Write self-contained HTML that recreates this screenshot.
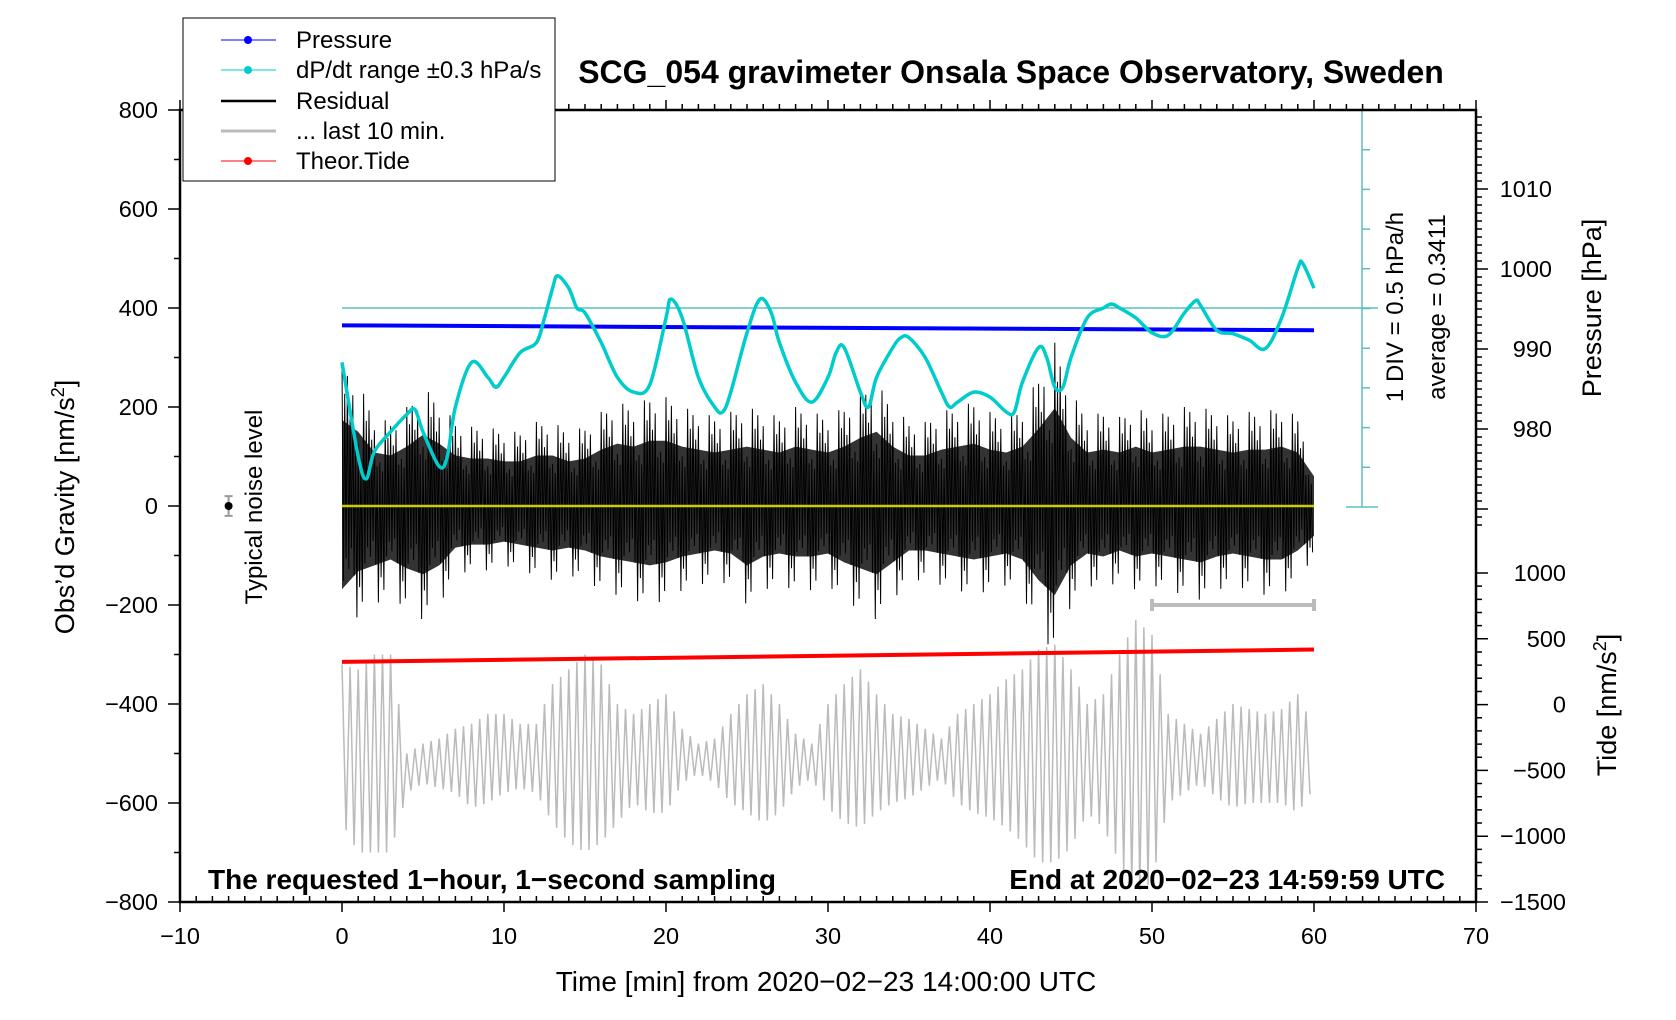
<!DOCTYPE html>
<html><head><meta charset="utf-8"><style>
body{margin:0;background:#fff;}
svg{display:block;font-family:"Liberation Sans",sans-serif;}
</style></head><body>
<svg id="chart" width="1676" height="1020" viewBox="0 0 1676 1020">
<g id="gGray"></g>
<g id="gRes"></g>
<g id="gLines"></g>
<g id="gAxes"></g>
<text x="1011" y="83" text-anchor="middle" font-size="32" font-weight="bold">SCG_054 gravimeter Onsala Space Observatory, Sweden</text>
<text x="208" y="889" font-size="28" font-weight="bold">The requested 1−hour, 1−second sampling</text>
<text x="1445" y="889" text-anchor="end" font-size="28" font-weight="bold">End at 2020−02−23 14:59:59 UTC</text>
<text transform="translate(74,507) rotate(-90)" text-anchor="middle" font-size="27">Obs’d Gravity [nm/s<tspan dy="-10" font-size="18">2</tspan><tspan dy="10">]</tspan></text>
<text transform="translate(1601,308) rotate(-90)" text-anchor="middle" font-size="27">Pressure [hPa]</text>
<text transform="translate(1616,705) rotate(-90)" text-anchor="middle" font-size="27">Tide [nm/s<tspan dy="-10" font-size="18">2</tspan><tspan dy="10">]</tspan></text>
<text x="826" y="991" text-anchor="middle" font-size="28">Time [min] from 2020−02−23 14:00:00 UTC</text>
<text transform="translate(1403,307) rotate(-90)" text-anchor="middle" font-size="24">1 DIV = 0.5 hPa/h</text>
<text transform="translate(1445,307) rotate(-90)" text-anchor="middle" font-size="24">average = 0.3411</text>
<text transform="translate(262,507) rotate(-90)" text-anchor="middle" font-size="24">Typical noise level</text>
<g>
<rect x="183" y="18" width="372" height="163" fill="#fff" stroke="#000" stroke-width="1"/>
<g><line x1="221" y1="40" x2="276" y2="40" stroke="#00f" stroke-width="1"/><circle cx="248" cy="40" r="4" fill="#00f"/><text x="296" y="48" font-size="24">Pressure</text></g>
<g><line x1="221" y1="70" x2="276" y2="70" stroke="#0cc" stroke-width="1"/><circle cx="248" cy="70" r="4" fill="#0cc"/><text x="296" y="78" font-size="24">dP/dt range ±0.3 hPa/s</text></g>
<g><line x1="221" y1="101" x2="276" y2="101" stroke="#000" stroke-width="2.5"/><text x="296" y="109" font-size="24">Residual</text></g>
<g><line x1="221" y1="131" x2="276" y2="131" stroke="#bbb" stroke-width="3"/><text x="296" y="139" font-size="24">... last 10 min.</text></g>
<g><line x1="221" y1="161" x2="276" y2="161" stroke="#f00" stroke-width="1"/><circle cx="248" cy="161" r="4" fill="#f00"/><text x="296" y="169" font-size="24">Theor.Tide</text></g>
</g>
</svg>
<script>
const dpTimes=[0,1,1.5,2,3,4,4.5,5,6,6.5,7,8,9,9.5,10,11,12,12.5,13,13.3,14,14.5,15,16,17,18,19,20,20.3,21,22,23,23.5,24,25,25.8,26.5,27,28,29,30,30.5,31,32,32.5,33,34,34.5,35,36,37,37.5,38,39,40,41,41.5,42,43,43.5,44,44.5,45,46,47,47.5,48,49,50,51,52,52.7,53,54,55,56,57,58,59,59.3,60];
const dpValues=[290,100,55,110,150,185,195,150,80,100,200,290,260,240,260,310,330,380,440,465,440,400,390,330,260,230,245,380,418,380,260,200,190,230,350,418,390,330,250,210,260,310,320,230,200,260,320,340,340,300,230,200,210,230,220,190,190,250,320,300,240,240,300,380,400,408,400,380,350,345,390,415,405,355,348,335,318,380,480,490,440];
const minutes=[0,1,2,3,4,5,6,7,8,9,10,11,12,13,14,15,16,17,18,19,20,21,22,23,24,25,26,27,28,29,30,31,32,33,34,35,36,37,38,39,40,41,42,43,44,45,46,47,48,49,50,51,52,53,54,55,56,57,58,59,60];
const resMax=[290,250,180,170,200,240,210,170,160,160,150,150,170,170,150,160,190,210,200,220,220,200,190,180,190,200,190,180,200,190,180,200,230,250,200,170,170,190,200,210,190,180,200,260,330,230,180,190,180,200,180,190,200,200,190,180,190,190,200,180,100];
const resMin=[-280,-220,-200,-180,-210,-230,-200,-140,-130,-130,-120,-130,-140,-150,-140,-150,-170,-180,-190,-200,-190,-170,-160,-150,-160,-200,-170,-160,-170,-170,-160,-190,-210,-230,-190,-150,-150,-160,-170,-180,-170,-160,-180,-250,-300,-200,-160,-170,-150,-170,-160,-170,-180,-190,-170,-160,-170,-180,-180,-150,-100];
const grayMax=[-320,-330,-300,-300,-500,-480,-470,-450,-440,-420,-420,-440,-440,-360,-330,-300,-320,-400,-420,-400,-380,-450,-480,-470,-420,-380,-360,-400,-460,-480,-400,-360,-330,-380,-420,-430,-450,-470,-420,-400,-380,-350,-330,-290,-280,-330,-400,-380,-300,-230,-260,-420,-440,-460,-430,-400,-410,-420,-410,-380,-450];
const grayMin=[-640,-700,-700,-700,-580,-560,-570,-580,-610,-600,-580,-570,-580,-640,-680,-700,-680,-640,-600,-620,-620,-560,-540,-560,-600,-620,-640,-620,-570,-550,-610,-640,-650,-620,-600,-590,-570,-550,-600,-620,-630,-650,-680,-720,-720,-690,-620,-650,-720,-780,-760,-600,-580,-560,-590,-610,-600,-600,-600,-620,-570];
const pressureStartEnd=[365,355];
const tideStartEnd=[-315,-290];
const xTicks=[-10,0,10,20,30,40,50,60,70];
const yTicks=[800,600,400,200,0,-200,-400,-600,-800];
const pTicks=[1010,1000,990,980];
const tideTicks=[1000,500,0,-500,-1000,-1500];

const L=180,R=1476,T=110,B=902;
const X=t=>L+(t+10)*(R-L)/80;
const Y=v=>T+(800-v)*(B-T)/1600;
const YP=p=>269-(p-1000)*8;
const YT=v=>B-(v+1500)*(B-573)/2500;
const NS='http://www.w3.org/2000/svg';
function mk(tag,attrs,parent){const e=document.createElementNS(NS,tag);for(const k in attrs)e.setAttribute(k,attrs[k]);parent.appendChild(e);return e;}
const gA=document.getElementById('gAxes'),gL=document.getElementById('gLines'),gR=document.getElementById('gRes'),gG=document.getElementById('gGray');

let gp='';
for(let i=0;i<minutes.length-1;i++){
  for(let k=0;k<4;k++){
    const f=k/4,t=minutes[i]+f;
    const hi=grayMax[i]+(grayMax[i+1]-grayMax[i])*f, lo=grayMin[i]+(grayMin[i+1]-grayMin[i])*f;
    const v=(k%2===0)?hi:lo;
    gp+=(gp?'L':'M')+X(t).toFixed(1)+','+Y(v).toFixed(1);
  }
}
const grayPath=mk('path',{d:gp,fill:'none',stroke:'#bbb','stroke-width':1.5},gG);



let rp='';
minutes.forEach((m,i)=>{rp+=(i?'L':'M')+X(m).toFixed(1)+','+Y(resMax[i]*0.6).toFixed(1);});
for(let i=minutes.length-1;i>=0;i--)rp+='L'+X(minutes[i]).toFixed(1)+','+Y(resMin[i]*0.6).toFixed(1);
rp+='Z';
const band=mk('path',{d:rp,fill:'#000','fill-opacity':0.8,stroke:'none'},gR);


const shape=[1,0.55,0.8,0.4,0.95,0.5,0.7,0.35,0.85,0.6,0.45,1,0.5,0.75,0.4,0.9];
let zp='',c=0;
for(let i=0;i<minutes.length-1;i++){
  for(let k=0;k<12;k++){
    const f=k/12,t=minutes[i]+f;
    const hi=resMax[i]+(resMax[i+1]-resMax[i])*f, lo=resMin[i]+(resMin[i+1]-resMin[i])*f;
    const s=shape[c%shape.length];c++;
    zp+=(zp?'L':'M')+X(t).toFixed(1)+','+Y((k%2?lo:hi)*s).toFixed(1);
  }
}
const zz=mk('path',{d:zp,fill:'none',stroke:'#000','stroke-width':1},gR);


const yel=mk('line',{x1:X(0),y1:Y(0),x2:X(60),y2:Y(0),stroke:'#cc0','stroke-width':2.5},gR);



const gb=mk('path',{d:`M${X(50)},${Y(-200)}H${X(60)}M${X(50)},${Y(-200)-6}V${Y(-200)+6}M${X(60)},${Y(-200)-6}V${Y(-200)+6}`,stroke:'#bbb','stroke-width':4,fill:'none'},gL);



const rl=mk('line',{x1:X(0),y1:Y(tideStartEnd[0]),x2:X(60),y2:Y(tideStartEnd[1]),stroke:'#f00','stroke-width':4},gL);


const bl=mk('line',{x1:X(0),y1:Y(pressureStartEnd[0]),x2:X(60),y2:Y(pressureStartEnd[1]),stroke:'#00f','stroke-width':4},gL);


const av=mk('line',{x1:X(0),y1:Y(400),x2:1378,y2:Y(400),stroke:'#5bbfbf','stroke-width':1.5},gL);


// smooth cyan curve (Catmull-Rom)
const pts=dpTimes.map((t,i)=>[X(t),Y(dpValues[i])]);
let cp='M'+pts[0][0].toFixed(1)+','+pts[0][1].toFixed(1);
for(let i=0;i<pts.length-1;i++){
  const p0=pts[Math.max(0,i-1)],p1=pts[i],p2=pts[i+1],p3=pts[Math.min(pts.length-1,i+2)];
  const c1=[p1[0]+(p2[0]-p0[0])/6,p1[1]+(p2[1]-p0[1])/6],c2=[p2[0]-(p3[0]-p1[0])/6,p2[1]-(p3[1]-p1[1])/6];
  cp+=`C${c1[0].toFixed(1)},${c1[1].toFixed(1)} ${c2[0].toFixed(1)},${c2[1].toFixed(1)} ${p2[0].toFixed(1)},${p2[1].toFixed(1)}`;
}
const cy=mk('path',{d:cp,fill:'none',stroke:'#0cc','stroke-width':3.5,'stroke-linejoin':'round'},gL);


let sb=`M1362,${T}V507M1346,${T}H1378M1346,507H1378`;
for(let i=1;i<10;i++){const y=507-i*(507-T)/10;sb+=`M1362,${y.toFixed(1)}H1370`;}
const sbar=mk('path',{d:sb,stroke:'#5bbfbf','stroke-width':1.5,fill:'none'},gL);


const nb=mk('path',{d:`M${X(-7)},${Y(20)}V${Y(-20)}M${X(-7)-4},${Y(20)}H${X(-7)+4}M${X(-7)-4},${Y(-20)}H${X(-7)+4}`,stroke:'#999','stroke-width':2,fill:'none'},gL);


const nd=mk('circle',{cx:X(-7),cy:Y(0),r:4,fill:'#000'},gL);



const fr=mk('rect',{x:L,y:T,width:R-L,height:B-T,fill:'none',stroke:'#000','stroke-width':2.5},gA);


let tk='';
for(let t=-10;t<=70;t++){
  const x=X(t),maj=(t%10===0);
  tk+=`M${x},${B}V${B+(maj?10:0)}M${x},${B}V${B-(maj?0:6)}`;
  tk+=`M${x},${T}V${T-(maj?10:6)}`;
}
for(let v=-800;v<=800;v+=100){const y=Y(v);tk+=`M${L},${y}H${L-(v%200===0?12:6)}`;}
for(let p=968;p<=1020;p++){const y=YP(p);if(y<T||y>545)continue;tk+=`M${R},${y}H${R+(p%10===0?12:6)}`;}
for(let v=-1500;v<=1000;v+=100){const y=YT(v);tk+=`M${R},${y}H${R+(v%500===0?12:6)}`;}
const tp=mk('path',{d:tk,stroke:'#000','stroke-width':1.5,fill:'none'},gA);


const fmt=v=>String(v).replace('-','−');
xTicks.forEach(t=>{const e=mk('text',{x:X(t),y:B+42,'text-anchor':'middle','font-size':23.5},gA);e.textContent=fmt(t);

});
yTicks.forEach(v=>{const e=mk('text',{x:L-22,y:Y(v)+8,'text-anchor':'end','font-size':23.5},gA);e.textContent=fmt(v);

});
pTicks.forEach(p=>{const e=mk('text',{x:1552,y:YP(p)+8,'text-anchor':'end','font-size':23.5},gA);e.textContent=p;

});
tideTicks.forEach(v=>{const e=mk('text',{x:1566,y:YT(v)+8,'text-anchor':'end','font-size':23.5},gA);e.textContent=fmt(v);

});
</script>
</body></html>
